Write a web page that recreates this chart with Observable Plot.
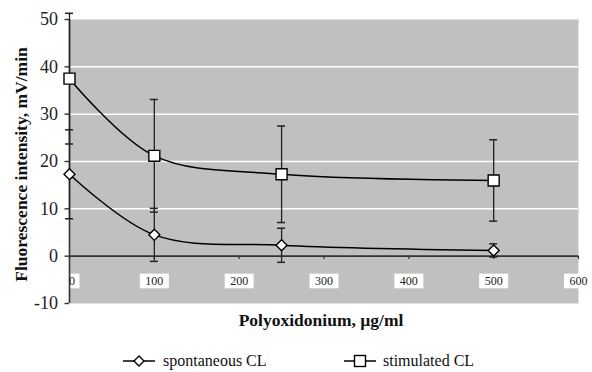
<!DOCTYPE html>
<html>
<head>
<meta charset="utf-8">
<script src="https://cdn.jsdelivr.net/npm/d3@7"></script>
<script src="https://cdn.jsdelivr.net/npm/@observablehq/plot@0.6"></script>
<style>
  html, body { margin: 0; padding: 0; background: #fff; }
  body { width: 592px; height: 372px; overflow: hidden; font-family: "Times New Roman", "Liberation Serif", Tinos, Times, serif; }
  #legend { position: relative; width: 592px; height: 32px; font-size: 16px; color: #111; }
  .item { position: absolute; top: 13px; display: flex; align-items: center; height: 16px; white-space: nowrap; }
  .item svg { display: block; }
  #chart svg text { font-family: "Times New Roman", "Liberation Serif", Tinos, Times, serif; }
</style>
</head>
<body>
<div id="chart"></div>
<div id="legend"></div>
<script>
// ---- data ----
const concentration = [0, 100, 250, 500];
const spontaneous = [17.3, 4.5, 2.3, 1.2];
const spontaneousErr = [9.4, 5.6, 3.6, 1.4];
const stimulated = [37.5, 21.2, 17.3, 16.0];
const stimulatedErr = [13.8, 11.9, 10.2, 8.6];
const seriesNames = ["spontaneous CL", "stimulated CL"];
const xTicks = [0, 100, 200, 300, 400, 500, 600];
const yTicks = [-10, 0, 10, 20, 30, 40, 50];
const gridValues = [10, 20, 30, 40];
const xLabel = "Polyoxidonium, \u00b5g/ml";
const yLabel = "Fluorescence intensity, mV/min";

const spont = concentration.map((x, i) => ({x, y: spontaneous[i], e: spontaneousErr[i]}));
const stim = concentration.map((x, i) => ({x, y: stimulated[i], e: stimulatedErr[i]}));
const all = [...spont, ...stim];
const caps = all.flatMap(d => [{x: d.x, y: d.y - d.e}, {x: d.x, y: d.y + d.e}]);

const diamond = {
  draw(ctx, size) {
    const s = Math.sqrt(size / 2);
    ctx.moveTo(0, -s); ctx.lineTo(s, 0); ctx.lineTo(0, s); ctx.lineTo(-s, 0); ctx.closePath();
  }
};

const serif = '"Times New Roman", "Liberation Serif", Tinos, Times, serif';
const axisColor = "#333";

const chart = Plot.plot({
  width: 592,
  height: 340,
  marginLeft: 69,
  marginRight: 14,
  marginTop: 19,
  marginBottom: 37,
  x: {domain: [0, 600], axis: null},
  y: {domain: [-10, 50], axis: null},
  style: {fontFamily: serif, background: "#fff", color: "#111", overflow: "visible"},
  marks: [
    Plot.frame({fill: "#c0c0c0", stroke: null}),
    Plot.ruleY(gridValues, {stroke: "#fff", strokeWidth: 1.5}),
    // x axis at zero
    Plot.ruleY([0], {stroke: axisColor, strokeWidth: 1.6}),
    Plot.ruleX(xTicks, {x: d => d, y1: 0, y2: -0.7, stroke: axisColor, strokeWidth: 1.2}),
    // x tick labels with white boxes (inside plot)
    Plot.ruleX(xTicks.filter(d => d !== 0), {x: d => d, y1: -3.8, y2: -6.9, stroke: "#fff", strokeWidth: d => String(d).length * 7 + 8}),
    Plot.ruleX(xTicks.filter(d => d === 0), {x: d => d, y1: -3.8, y2: -6.9, stroke: "#fff", strokeWidth: 15, dx: 2.5}),
    Plot.text(xTicks.filter(d => d !== 0), {x: d => d, y: -5.35, text: d => String(d), fontSize: 12, fill: "#222", fontFamily: serif}),
    Plot.text(xTicks.filter(d => d === 0), {x: d => d, y: -5.35, text: d => String(d), fontSize: 12, fill: "#222", dx: 2.5, fontFamily: serif}),
    // y axis
    Plot.ruleX([0], {y1: -10, y2: 50, stroke: axisColor, strokeWidth: 1.6}),
    Plot.ruleY(yTicks, {y: d => d, x1: 0, x2: 0, insetLeft: -4.5, stroke: axisColor, strokeWidth: 1.4}),
    Plot.text(yTicks, {x: 0, y: d => d, text: d => String(d), textAnchor: "end", dx: -11.5, fontSize: 18, fill: "#222", fontFamily: serif}),
    // error bars
    Plot.ruleX(all, {x: "x", y1: d => d.y - d.e, y2: d => d.y + d.e, stroke: "#222", strokeWidth: 1.3}),
    Plot.ruleY(caps, {y: "y", x1: "x", x2: "x", insetLeft: -4, insetRight: -4, stroke: "#222", strokeWidth: 1.5}),
    // lines
    Plot.line(spont, {x: "x", y: "y", curve: "catmull-rom", stroke: "#000", strokeWidth: 1.5}),
    Plot.line(stim, {x: "x", y: "y", curve: "catmull-rom", stroke: "#000", strokeWidth: 1.5}),
    // markers
    Plot.dot(spont, {x: "x", y: "y", symbol: diamond, r: 4.4, fill: "#fff", stroke: "#000", strokeWidth: 1.4}),
    Plot.dot(stim, {x: "x", y: "y", symbol: "square", r: 6.2, fill: "#fff", stroke: "#000", strokeWidth: 1.4}),
    // axis titles
    Plot.text([xLabel], {frameAnchor: "bottom", text: d => d, dy: 22, dx: -3, fontSize: 17.5, fontWeight: "bold", fill: "#111", fontFamily: serif}),
    Plot.text([yLabel], {frameAnchor: "left", textAnchor: "middle", text: d => d, rotate: -90, dx: -48, dy: 3, fontSize: 17.5, fontWeight: "bold", fill: "#111", fontFamily: serif})
  ]
});
document.getElementById("chart").appendChild(chart);

// ---- legend ----
const legend = document.getElementById("legend");
const positions = [123, 344];
seriesNames.forEach((name, i) => {
  const item = document.createElement("div");
  item.className = "item";
  item.style.left = positions[i] + "px";
  const sym = i === 0
    ? '<polygon points="16,2 21,7 16,12 11,7" fill="#fff" stroke="#000" stroke-width="1.4"/>'
    : '<rect x="10.5" y="1.5" width="11" height="11" fill="#fff" stroke="#000" stroke-width="1.4"/>';
  item.innerHTML = '<svg width="32" height="14"><line x1="0" x2="32" y1="7" y2="7" stroke="#000" stroke-width="1.5"/>' + sym +
    '</svg><span style="margin-left:' + (i === 0 ? 8 : 7) + 'px">' + name + '</span>';
  legend.appendChild(item);
});
</script>
</body>
</html>
